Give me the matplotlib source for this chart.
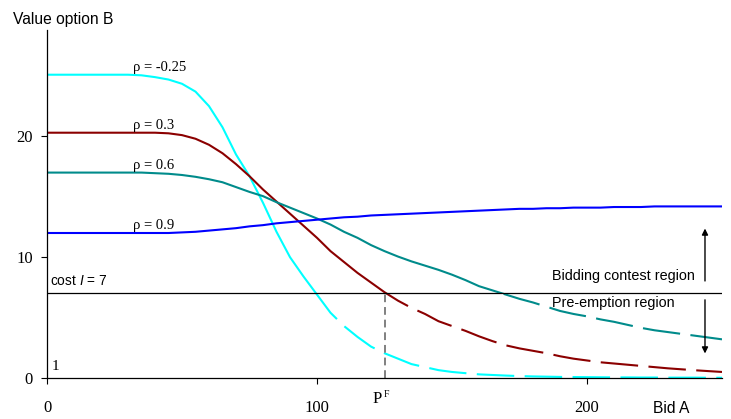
import matplotlib
matplotlib.use("Agg")
import matplotlib.pyplot as plt
from matplotlib import font_manager
from matplotlib.patches import Rectangle

# bids of A, read every 5 units off the picture
bid_a = list(range(0, 255, 5))

value_rho_m025 = [25.1, 25.1, 25.1, 25.1, 25.1, 25.1, 25.1, 25.05, 24.9, 24.7,
                  24.35, 23.7, 22.5, 20.75, 18.5, 16.7, 14.5, 12.1, 10.0, 8.4,
                  6.9, 5.4, 4.3, 3.4, 2.6, 2.05, 1.6, 1.15, 0.9, 0.65,
                  0.5, 0.4, 0.3, 0.25, 0.2, 0.16, 0.13, 0.11, 0.09, 0.08,
                  0.07, 0.06, 0.05, 0.05, 0.04, 0.04, 0.03, 0.03, 0.03, 0.02,
                  0.02]
value_rho_03 = [20.3, 20.3, 20.3, 20.3, 20.3, 20.3, 20.3, 20.3, 20.3, 20.25,
                20.1, 19.8, 19.3, 18.6, 17.7, 16.7, 15.6, 14.6, 13.6, 12.6,
                11.6, 10.5, 9.6, 8.7, 7.9, 7.1, 6.4, 5.8, 5.3, 4.7,
                4.3, 3.9, 3.45, 3.05, 2.7, 2.45, 2.25, 2.05, 1.8, 1.6,
                1.45, 1.3, 1.2, 1.1, 1.0, 0.9, 0.8, 0.72, 0.64, 0.57,
                0.5]
value_rho_06 = [17.0, 17.0, 17.0, 17.0, 17.0, 17.0, 17.0, 17.0, 16.95, 16.9,
                16.8, 16.65, 16.45, 16.2, 15.8, 15.4, 15.05, 14.55, 14.1, 13.65,
                13.2, 12.7, 12.1, 11.6, 11.0, 10.5, 10.05, 9.65, 9.3, 8.95,
                8.55, 8.1, 7.6, 7.25, 6.9, 6.55, 6.25, 5.9, 5.55, 5.3,
                5.1, 4.85, 4.65, 4.4, 4.15, 3.95, 3.8, 3.65, 3.5, 3.35,
                3.2]
value_rho_09 = [12.0, 12.0, 12.0, 12.0, 12.0, 12.0, 12.0, 12.0, 12.0, 12.0,
                12.05, 12.1, 12.2, 12.3, 12.4, 12.55, 12.65, 12.8, 12.9, 13.0,
                13.1, 13.2, 13.3, 13.35, 13.45, 13.5, 13.55, 13.6, 13.65, 13.7,
                13.75, 13.8, 13.85, 13.9, 13.95, 14.0, 14.0, 14.05, 14.05, 14.1,
                14.1, 14.1, 14.15, 14.15, 14.15, 14.2, 14.2, 14.2, 14.2, 14.2,
                14.2]

curves = [value_rho_m025, value_rho_03, value_rho_06, value_rho_09]
rho_labels = ["ρ = -0.25", "ρ = 0.3", "ρ = 0.6", "ρ = 0.9"]
colors = ["#00ffff", "#8b0000", "#008b8b", "#0000ff"]

cost = 7
pf_bid = 125
x_ticks = [0, 100, 200]
y_ticks = [0, 10, 20]

# narrow sans if there is one, the original text looks condensed
names = {f.name for f in font_manager.fontManager.ttflist}
if "Liberation Sans Narrow" in names:
    sans, k = "Liberation Sans Narrow", 1.0
else:
    sans, k = "Liberation Sans", 0.9
serif = "Liberation Serif"
plt.rcParams["mathtext.fontset"] = "custom"
plt.rcParams["mathtext.it"] = sans + ":italic"
plt.rcParams["mathtext.rm"] = sans

fig = plt.figure(figsize=(7.31, 4.19), dpi=100)
ax = fig.add_axes([47 / 731, 41 / 419, 675 / 731, 348 / 419])
ax.set_xlim(0, 250)
ax.set_ylim(0, 28.8)

for vals, col in zip(curves, colors):
    # solid above the cost line, dashed below it
    top, = ax.plot(bid_a, vals, color=col, lw=1.5, solid_capstyle="butt")
    top.set_clip_path(Rectangle((0, cost), 250, 40, transform=ax.transData))
    low, = ax.plot(bid_a, vals, color=col, lw=1.5, linestyle=(0, (18, 5)))
    low.set_clip_path(Rectangle((0, -5), 250, cost + 5, transform=ax.transData))

ax.axhline(cost, color="black", lw=0.9)
ax.plot([pf_bid, pf_bid], [0, cost], color="#808080", lw=1.4, linestyle=(0, (4, 2.5)))

for vals, lab in zip(curves, rho_labels):
    ax.text(32, vals[6] + 0.3, lab, family=serif, fontsize=10.5, va="baseline")

ax.text(1.1, 7.7, r"cost $I$ = 7", family=sans, fontsize=11 * k, va="baseline")
ax.text(1.9, 0.65, "1", family=serif, fontsize=11, va="baseline")
ax.text(187, 8.1, "Bidding contest region", family=sans, fontsize=11.5 * k, va="baseline")
ax.text(187, 5.9, "Pre-emption region", family=sans, fontsize=11.5 * k, va="baseline")

ax.annotate("", xy=(243.7, 12.6), xytext=(243.7, 7.8),
            arrowprops=dict(arrowstyle="-|>", color="black", lw=1, mutation_scale=9))
ax.annotate("", xy=(243.7, 1.8), xytext=(243.7, 6.7),
            arrowprops=dict(arrowstyle="-|>", color="black", lw=1, mutation_scale=9))

ax.text(-12.6, 29.3, "Value option B", family=sans, fontsize=12.5 * k, va="baseline", clip_on=False)
ax.text(224.5, -2.9, "Bid A", family=sans, fontsize=12.5 * k, va="baseline", clip_on=False)
ax.text(120.7, -2.05, "P", family=serif, fontsize=12, va="baseline", clip_on=False)
ax.text(124.6, -1.55, "F", family=serif, fontsize=7, va="baseline", clip_on=False)

ax.spines["top"].set_visible(False)
ax.spines["right"].set_visible(False)
ax.spines["left"].set_linewidth(0.9)
ax.spines["bottom"].set_linewidth(0.9)
ax.set_xticks(x_ticks)
ax.set_yticks(y_ticks)
ax.tick_params(axis="both", direction="out", length=4, width=0.8, labelsize=12)
ax.tick_params(axis="x", pad=12)
ax.tick_params(axis="y", pad=6)
for t in ax.get_xticklabels() + ax.get_yticklabels():
    t.set_family(serif)

fig.savefig("out.png", dpi=100)
